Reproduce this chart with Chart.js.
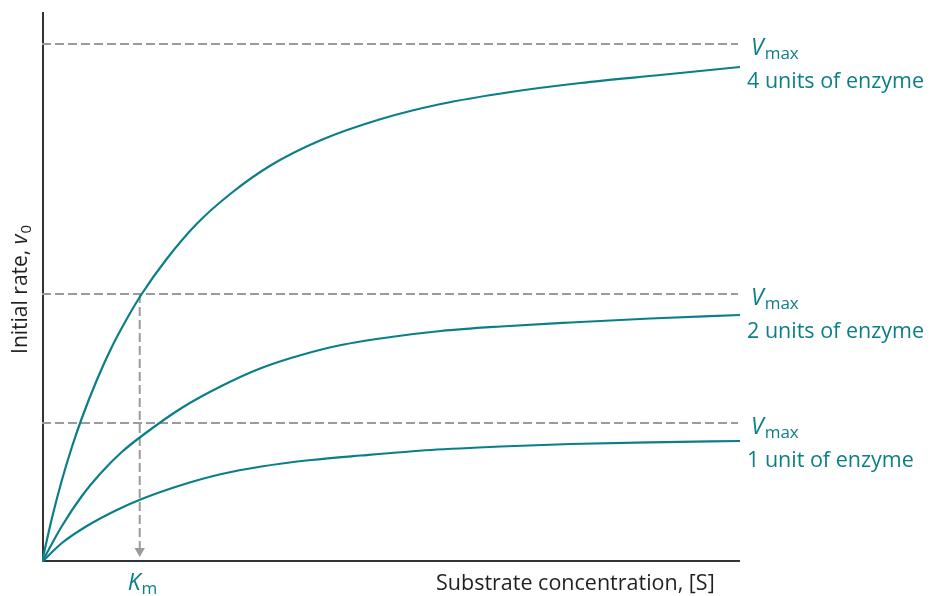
<!DOCTYPE html>
<html>
<head>
<meta charset="utf-8">
<title>Enzyme concentration and initial rate</title>
<script src="https://cdn.jsdelivr.net/npm/chart.js@4.4.1/dist/chart.umd.min.js"></script>
<style>
  html, body { margin: 0; padding: 0; background: #fff; }
  #wrap { width: 931px; height: 596px; }
</style>
</head>
<body>
<div id="wrap"><canvas id="chart" width="931" height="596"></canvas></div>
<script>
// substrate concentration (x) and initial rate (y)
const enzyme4X = [0, 0.1, 0.2, 0.3, 0.4, 0.55, 0.7, 0.85, 1.0, 1.25, 1.55, 1.9, 2.3, 2.8, 3.4, 4.0, 4.7, 5.4, 6.2, 7.0];
const enzyme4Y = [0, 0.44, 0.82, 1.15, 1.44, 1.82, 2.15, 2.43, 2.68, 3.03, 3.38, 3.69, 3.97, 4.22, 4.43, 4.58, 4.70, 4.79, 4.87, 4.95];

const enzyme2X = [0, 0.2, 0.4, 0.6, 0.8, 1.0, 1.4, 1.8, 2.2, 2.6, 3.0, 3.5, 4.0, 4.6, 5.3, 6.1, 7.0];
const enzyme2Y = [0, 0.36, 0.66, 0.90, 1.10, 1.26, 1.54, 1.76, 1.94, 2.07, 2.17, 2.25, 2.31, 2.355, 2.395, 2.435, 2.47];

const enzyme1X = [0, 0.2, 0.45, 0.75, 1.0, 1.4, 1.8, 2.2, 2.7, 3.2, 3.9, 4.6, 5.3, 6.1, 7.0];
const enzyme1Y = [0, 0.19, 0.36, 0.52, 0.63, 0.77, 0.88, 0.955, 1.02, 1.065, 1.12, 1.155, 1.18, 1.197, 1.21];

const vmaxValues = [5.18, 2.68, 1.39];
const enzymeLabels = ['4 units of enzyme', '2 units of enzyme', '1 unit of enzyme'];
const kmValue = 0.98;
const xMax = 7;
const yMax = 5.5;

const teal = '#0b7f87';
const grey = '#9b9b9f';
const ink = '#231f20';
const font = '"Open Sans", "Noto Sans", sans-serif';

function toPoints(xs, ys) {
    return xs.map((x, i) => ({ x: x, y: ys[i] }));
}

const curveStyle = {
    borderColor: teal,
    borderWidth: 2.2,
    pointRadius: 0,
    fill: false,
    cubicInterpolationMode: 'monotone',
    order: 0
};

const datasets = [
    Object.assign({ label: '4 units', data: toPoints(enzyme4X, enzyme4Y) }, curveStyle),
    Object.assign({ label: '2 units', data: toPoints(enzyme2X, enzyme2Y) }, curveStyle),
    Object.assign({ label: '1 unit', data: toPoints(enzyme1X, enzyme1Y) }, curveStyle)
];

// dashed Vmax guides
vmaxValues.forEach(v => {
    datasets.push({
        label: 'Vmax',
        data: [{ x: 0, y: v }, { x: xMax - 0.02, y: v }],
        borderColor: grey,
        borderWidth: 2,
        borderDash: [9, 4],
        pointRadius: 0,
        order: 1
    });
});

// dashed drop line to Km with arrow head
datasets.push({
    label: 'Km',
    data: [{ x: kmValue, y: vmaxValues[1] }, { x: kmValue, y: 0.11 }],
    borderColor: grey,
    backgroundColor: grey,
    borderWidth: 2,
    borderDash: [9, 4],
    pointRadius: [0, 6],
    pointStyle: 'triangle',
    pointRotation: 180,
    pointBorderWidth: 0,
    order: 1
});

// italic main letter followed by a lowered subscript
function drawSub(ctx, x, y, main, sub, size, subSize) {
    ctx.font = 'italic ' + size + 'px ' + font;
    ctx.fillText(main, x, y);
    const w = ctx.measureText(main).width;
    ctx.font = subSize + 'px ' + font;
    ctx.fillText(sub, x + w + 1, y + 4);
    return w + ctx.measureText(sub).width;
}

const annotate = {
    id: 'annotate',
    beforeDatasetsDraw(chart) {
        const { ctx, chartArea } = chart;
        ctx.save();
        ctx.strokeStyle = '#333333';
        ctx.lineWidth = 2;
        ctx.beginPath();
        ctx.moveTo(chartArea.left + 1, chartArea.top);
        ctx.lineTo(chartArea.left + 1, chartArea.bottom - 1);
        ctx.lineTo(chartArea.right, chartArea.bottom - 1);
        ctx.stroke();
        ctx.restore();
    },
    afterDatasetsDraw(chart) {
        const { ctx, chartArea } = chart;
        const xs = chart.scales.x;
        const ys = chart.scales.y;
        ctx.save();
        ctx.textBaseline = 'alphabetic';
        ctx.textAlign = 'left';

        // Vmax labels and enzyme amounts
        ctx.fillStyle = teal;
        vmaxValues.forEach((v, i) => {
            const py = ys.getPixelForValue(v);
            drawSub(ctx, chartArea.right + 11, py + 11, 'V', 'max', 23, 17);
            ctx.font = '21.5px ' + font;
            ctx.fillText(enzymeLabels[i], chartArea.right + 7, py + 44);
        });

        // Km under the axis
        drawSub(ctx, xs.getPixelForValue(kmValue) - 12, chartArea.bottom + 28, 'K', 'm', 23, 17);

        // x axis title
        ctx.fillStyle = ink;
        ctx.font = '21.5px ' + font;
        ctx.fillText('Substrate concentration, [S]', 436, chartArea.bottom + 28);

        // y axis title, rotated
        ctx.translate(27, 290);
        ctx.rotate(-Math.PI / 2);
        ctx.font = '21px ' + font;
        const head = 'Initial rate, ';
        const headW = ctx.measureText(head).width;
        ctx.font = 'italic 21px ' + font;
        const vW = ctx.measureText('v').width;
        ctx.font = '15px ' + font;
        const total = headW + vW + ctx.measureText('0').width;
        const start = -total / 2;
        ctx.font = '21px ' + font;
        ctx.fillText(head, start, 0);
        ctx.font = 'italic 21px ' + font;
        ctx.fillText('v', start + headW, 0);
        ctx.font = '15px ' + font;
        ctx.fillText('0', start + headW + vW + 1, 4);
        ctx.restore();
    }
};

const chart = new Chart(document.getElementById('chart').getContext('2d'), {
    type: 'line',
    data: { datasets: datasets },
    options: {
        responsive: false,
        animation: false,
        layout: { padding: { left: 42, right: 191, top: 12, bottom: 34 } },
        plugins: { legend: { display: false }, tooltip: { enabled: false } },
        scales: {
            x: { type: 'linear', min: 0, max: xMax, display: false },
            y: { type: 'linear', min: 0, max: yMax, display: false }
        }
    },
    plugins: [annotate]
});
</script>
</body>
</html>
